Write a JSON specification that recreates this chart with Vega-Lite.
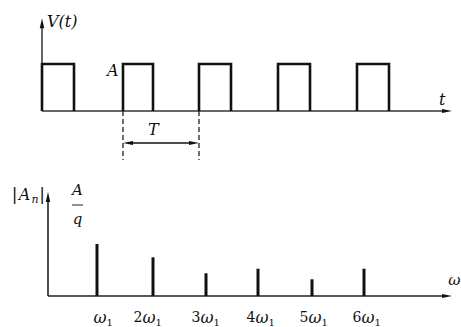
{
  "$schema": "https://vega.github.io/schema/vega-lite/v6.json",
  "padding": 0,
  "spacing": 0,
  "bounds": "flush",
  "background": "white",
  "config": {"view": {"stroke": null}},
  "datasets": {
    "topAxes": [{"x": 0, "y": 0, "x2": 40.5, "y2": 0}, {"x": 0, "y": 0, "x2": 0, "y2": 8.77}],
    "pulse": [
      {"p": 1, "i": 0, "x": 0, "y": 0}, {"p": 1, "i": 1, "x": 0, "y": 4.7}, {"p": 1, "i": 2, "x": 3.2, "y": 4.7}, {"p": 1, "i": 3, "x": 3.2, "y": 0},
      {"p": 2, "i": 0, "x": 8.1, "y": 0}, {"p": 2, "i": 1, "x": 8.1, "y": 4.7}, {"p": 2, "i": 2, "x": 11.1, "y": 4.7}, {"p": 2, "i": 3, "x": 11.1, "y": 0},
      {"p": 3, "i": 0, "x": 15.7, "y": 0}, {"p": 3, "i": 1, "x": 15.7, "y": 4.7}, {"p": 3, "i": 2, "x": 18.9, "y": 4.7}, {"p": 3, "i": 3, "x": 18.9, "y": 0},
      {"p": 4, "i": 0, "x": 23.6, "y": 0}, {"p": 4, "i": 1, "x": 23.6, "y": 4.7}, {"p": 4, "i": 2, "x": 26.8, "y": 4.7}, {"p": 4, "i": 3, "x": 26.8, "y": 0},
      {"p": 5, "i": 0, "x": 31.5, "y": 0}, {"p": 5, "i": 1, "x": 31.5, "y": 4.7}, {"p": 5, "i": 2, "x": 34.7, "y": 4.7}, {"p": 5, "i": 3, "x": 34.7, "y": 0}
    ],
    "dashes": [{"x": 8.1, "y": 0, "x2": 8.1, "y2": -4.9}, {"x": 15.7, "y": 0, "x2": 15.7, "y2": -4.9}],
    "period": [{"x": 8.6, "y": -3.2, "x2": 15.2, "y2": -3.2}],
    "topHeads": [
      {"x": 0, "y": 8.77, "dir": "up"},
      {"x": 40.5, "y": 0, "dir": "right"},
      {"x": 8.6, "y": -3.2, "dir": "left"},
      {"x": 15.2, "y": -3.2, "dir": "right"}
    ],
    "topText": [
      {"x": 0.5, "y": 8.9, "label": "V(t)"},
      {"x": 6.5, "y": 4.0, "label": "A"},
      {"x": 39.7, "y": 1.1, "label": "t"},
      {"x": 10.6, "y": -1.9, "label": "T"}
    ],
    "botAxes": [{"x": 0, "y": 0, "x2": 39.9, "y2": 0}, {"x": 0, "y": 0, "x2": 0, "y2": 9.9}],
    "spectrum": [
      {"x": 4.9, "y": 0, "y2": 5.2},
      {"x": 10.5, "y": 0, "y2": 3.87},
      {"x": 15.8, "y": 0, "y2": 2.27},
      {"x": 21.0, "y": 0, "y2": 2.73},
      {"x": 26.4, "y": 0, "y2": 1.67},
      {"x": 31.6, "y": 0, "y2": 2.73}
    ],
    "botHeads": [
      {"x": 0, "y": 9.9, "dir": "up"},
      {"x": 39.9, "y": 0, "dir": "right"}
    ],
    "fracBar": [{"x": 2.4, "y": 9.1, "x2": 3.5, "y2": 9.1}],
    "fracText": [
      {"x": 2.95, "y": 10.6, "label": "A"},
      {"x": 2.95, "y": 7.75, "label": "q"}
    ],
    "ampLabel": [{"x": -2.35, "y": 10.07}],
    "omegaText": [{"x": 41.25, "y": 1.6, "label": "ω"}],
    "ticks": [
      {"x": 5.2, "y": -2.23, "coef": ""},
      {"x": 10.1, "y": -2.23, "coef": "2"},
      {"x": 15.9, "y": -2.23, "coef": "3"},
      {"x": 21.4, "y": -2.23, "coef": "4"},
      {"x": 26.7, "y": -2.23, "coef": "5"},
      {"x": 32.0, "y": -2.23, "coef": "6"}
    ]
  },
  "vconcat": [
    {
      "width": 461,
      "height": 170,
      "encoding": {
        "x": {"field": "x", "type": "quantitative", "scale": {"domain": [-4.2, 41.9], "nice": false, "zero": false}, "axis": null},
        "y": {"field": "y", "type": "quantitative", "scale": {"domain": [-5.9, 11.1], "nice": false, "zero": false}, "axis": null}
      },
      "layer": [
        {
          "data": {"name": "topAxes"},
          "mark": {"type": "rule", "color": "#333", "strokeWidth": 1.5},
          "encoding": {"x2": {"field": "x2"}, "y2": {"field": "y2"}}
        },
        {
          "data": {"name": "dashes"},
          "mark": {"type": "rule", "color": "#222", "strokeWidth": 1.3, "strokeDash": [5, 3]},
          "encoding": {"x2": {"field": "x2"}, "y2": {"field": "y2"}}
        },
        {
          "data": {"name": "period"},
          "mark": {"type": "rule", "color": "#111", "strokeWidth": 1.6},
          "encoding": {"x2": {"field": "x2"}, "y2": {"field": "y2"}}
        },
        {
          "data": {"name": "pulse"},
          "mark": {"type": "line", "color": "#111", "strokeWidth": 2.6, "strokeJoin": "miter"},
          "encoding": {"detail": {"field": "p", "type": "nominal"}, "order": {"field": "i", "type": "quantitative"}}
        },
        {
          "data": {"name": "topHeads"},
          "mark": {"type": "point", "filled": true, "opacity": 1, "color": "#111", "size": 100},
          "encoding": {
            "shape": {"field": "dir", "type": "nominal", "legend": null,
              "scale": {"domain": ["up", "right", "left"], "range": ["M0,-1L0.45,1L-0.45,1Z", "M1,0L-1,-0.4L-1,0.4Z", "M-1,0L1,-0.4L1,0.4Z"]}}
          }
        },
        {
          "data": {"name": "topText"},
          "mark": {"type": "text", "font": "DejaVu Serif", "fontStyle": "italic", "fontSize": 16, "color": "#111", "align": "left", "baseline": "middle"},
          "encoding": {"text": {"field": "label"}}
        }
      ]
    },
    {
      "width": 461,
      "height": 157,
      "encoding": {
        "x": {"field": "x", "type": "quantitative", "scale": {"domain": [-4.8, 41.3], "nice": false, "zero": false}, "axis": null},
        "y": {"field": "y", "type": "quantitative", "scale": {"domain": [-3.1, 12.6], "nice": false, "zero": false}, "axis": null}
      },
      "layer": [
        {
          "data": {"name": "botAxes"},
          "mark": {"type": "rule", "color": "#222", "strokeWidth": 1.6},
          "encoding": {"x2": {"field": "x2"}, "y2": {"field": "y2"}}
        },
        {
          "data": {"name": "spectrum"},
          "mark": {"type": "rule", "color": "#111", "strokeWidth": 3},
          "encoding": {"y2": {"field": "y2"}}
        },
        {
          "data": {"name": "fracBar"},
          "mark": {"type": "rule", "color": "#222", "strokeWidth": 1},
          "encoding": {"x2": {"field": "x2"}, "y2": {"field": "y2"}}
        },
        {
          "data": {"name": "botHeads"},
          "mark": {"type": "point", "filled": true, "opacity": 1, "color": "#111", "size": 100},
          "encoding": {
            "shape": {"field": "dir", "type": "nominal", "legend": null,
              "scale": {"domain": ["up", "right"], "range": ["M0,-1L0.45,1L-0.45,1Z", "M1,0L-1,-0.45L-1,0.45Z"]}}
          }
        },
        {
          "data": {"name": "fracText"},
          "mark": {"type": "text", "font": "DejaVu Serif", "fontStyle": "italic", "fontSize": 15, "color": "#111", "align": "center", "baseline": "middle"},
          "encoding": {"text": {"field": "label"}}
        },
        {
          "data": {"name": "ampLabel"},
          "mark": {"type": "text", "font": "DejaVu Serif", "fontStyle": "italic", "fontSize": 16, "color": "#111", "align": "center", "baseline": "middle"},
          "encoding": {"text": {"value": "A"}}
        },
        {
          "data": {"name": "ampLabel"},
          "mark": {"type": "text", "font": "DejaVu Serif", "fontSize": 11, "fontStyle": "italic", "color": "#111", "align": "center", "baseline": "middle", "dx": 10.5, "dy": 5},
          "encoding": {"text": {"value": "n"}}
        },
        {
          "data": {"name": "ampLabel"},
          "mark": {"type": "text", "font": "DejaVu Serif", "fontSize": 17, "color": "#111", "align": "center", "baseline": "middle", "dx": -10},
          "encoding": {"text": {"value": "|"}}
        },
        {
          "data": {"name": "ampLabel"},
          "mark": {"type": "text", "font": "DejaVu Serif", "fontSize": 17, "color": "#111", "align": "center", "baseline": "middle", "dx": 17.5},
          "encoding": {"text": {"value": "|"}}
        },
        {
          "data": {"name": "omegaText"},
          "mark": {"type": "text", "font": "DejaVu Serif", "fontStyle": "italic", "fontSize": 15, "color": "#111", "align": "right", "baseline": "middle"},
          "encoding": {"text": {"field": "label"}}
        },
        {
          "data": {"name": "ticks"},
          "mark": {"type": "text", "font": "DejaVu Serif", "fontStyle": "italic", "fontSize": 16, "color": "#111", "align": "center", "baseline": "middle"},
          "encoding": {"text": {"value": "ω"}}
        },
        {
          "data": {"name": "ticks"},
          "mark": {"type": "text", "font": "DejaVu Serif", "fontSize": 14, "color": "#111", "align": "right", "baseline": "middle", "dx": -6.5},
          "encoding": {"text": {"field": "coef"}}
        },
        {
          "data": {"name": "ticks"},
          "mark": {"type": "text", "font": "DejaVu Serif", "fontSize": 10, "color": "#111", "align": "left", "baseline": "middle", "dx": 6.5, "dy": 5},
          "encoding": {"text": {"value": "1"}}
        }
      ]
    }
  ]
}
